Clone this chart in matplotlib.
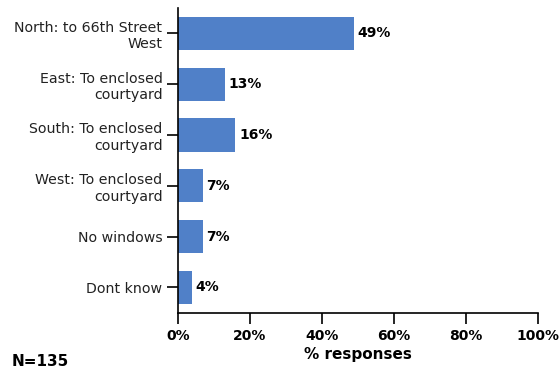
import matplotlib
matplotlib.use("Agg")
import matplotlib.pyplot as plt

plt.rcParams['font.family'] = ['DejaVu Sans']

categories = ["North: to 66th Street\nWest", "East: To enclosed\ncourtyard",
              "South: To enclosed\ncourtyard", "West: To enclosed\ncourtyard",
              "No windows", "Dont know"]
values = [49, 13, 16, 7, 7, 4]
xticks = [0, 20, 40, 60, 80, 100]

fig = plt.figure(figsize=(5.59, 3.77), dpi=100)
ax = fig.add_axes([0.318, 0.170, 0.644, 0.809])

pos = list(range(len(categories)))
ax.barh(pos, values, height=0.65, color="#5080C8")
for p, v in zip(pos, values):
    ax.text(v + 1, p, f"{v}%", va="center", ha="left", fontsize=10, fontweight="bold")

ax.set_ylim(5.5, -0.5)
ax.set_xlim(0, 100)
ax.set_yticks(pos)
ax.set_yticklabels(categories, fontsize=10.2, linespacing=1.2, color="#222222")
ax.set_xticks(xticks)
ax.set_xticklabels([f"{t}%" for t in xticks], fontsize=10, fontweight="bold")
ax.set_xlabel("% responses", fontsize=11, fontweight="bold", labelpad=3)
ax.tick_params(axis="both", length=8, width=1.2, direction="out")
ax.tick_params(axis="y", pad=3)
for s in ["top", "right"]:
    ax.spines[s].set_visible(False)
for s in ["left", "bottom"]:
    ax.spines[s].set_linewidth(1.2)

fig.text(0.02, 0.03, "N=135", fontsize=11, fontweight="bold")

fig.savefig("out.png", dpi=100)
